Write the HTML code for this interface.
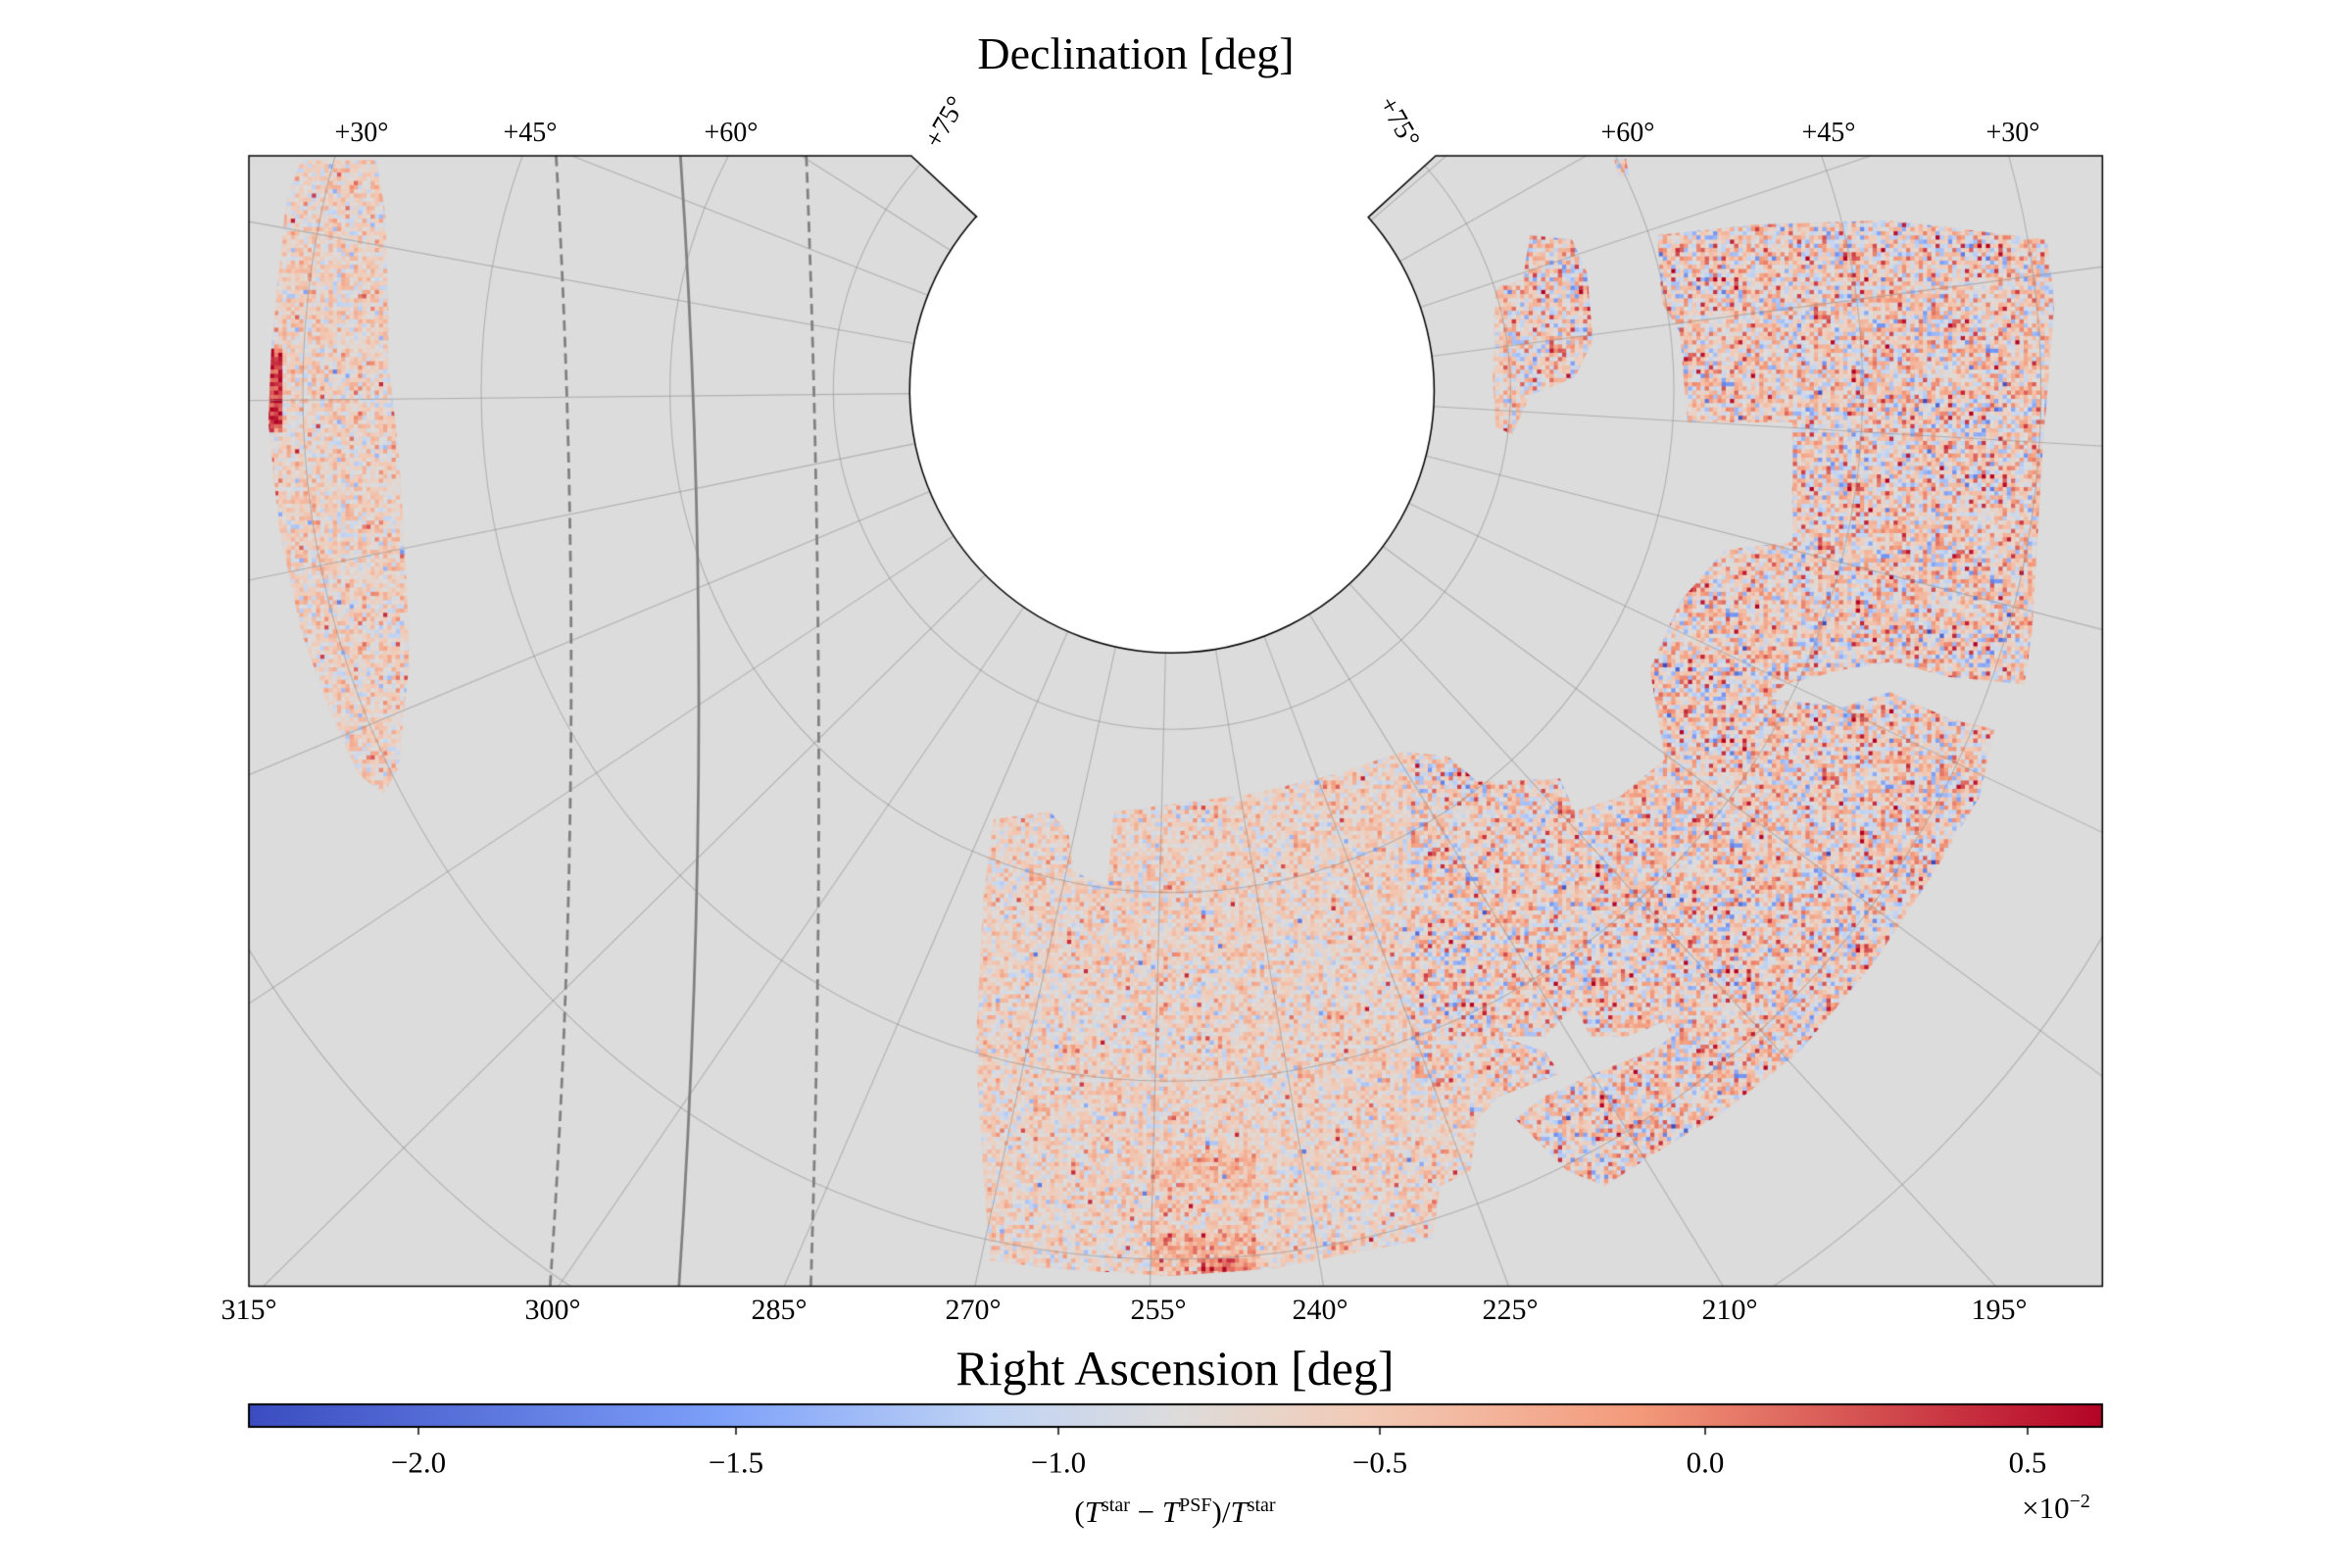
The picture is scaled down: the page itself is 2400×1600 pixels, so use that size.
<!DOCTYPE html>
<html><head><meta charset="utf-8"><style>
html,body{margin:0;padding:0;background:#fff}
#w{position:relative;width:2400px;height:1600px;overflow:hidden;font-family:"Liberation Serif",serif;color:#000}
canvas{position:absolute;left:0;top:0}
.t{position:absolute;white-space:nowrap;transform:translate(-50%,-50%);line-height:1}
</style></head><body><div id="w">
<canvas id="c" width="2400" height="1600"></canvas>
<div class="t" style="left:1159px;top:55px;font-size:46px">Declination [deg]</div>
<div class="t" style="left:369px;top:136px;font-size:28px">+30°</div>
<div class="t" style="left:541px;top:136px;font-size:28px">+45°</div>
<div class="t" style="left:746px;top:136px;font-size:28px">+60°</div>
<div class="t" style="left:1661px;top:136px;font-size:28px">+60°</div>
<div class="t" style="left:1866px;top:136px;font-size:28px">+45°</div>
<div class="t" style="left:2054px;top:136px;font-size:28px">+30°</div>
<div class="t" style="left:965px;top:125px;font-size:28px;transform:translate(-50%,-50%) rotate(-60deg)">+75°</div>
<div class="t" style="left:1427px;top:125px;font-size:28px;transform:translate(-50%,-50%) rotate(60deg)">+75°</div>
<div class="t" style="left:254px;top:1337px;font-size:30px">315°</div>
<div class="t" style="left:564px;top:1337px;font-size:30px">300°</div>
<div class="t" style="left:795px;top:1337px;font-size:30px">285°</div>
<div class="t" style="left:993px;top:1337px;font-size:30px">270°</div>
<div class="t" style="left:1182px;top:1337px;font-size:30px">255°</div>
<div class="t" style="left:1347px;top:1337px;font-size:30px">240°</div>
<div class="t" style="left:1541px;top:1337px;font-size:30px">225°</div>
<div class="t" style="left:1765px;top:1337px;font-size:30px">210°</div>
<div class="t" style="left:2040px;top:1337px;font-size:30px">195°</div>
<div class="t" style="left:1199px;top:1396px;font-size:50px">Right Ascension [deg]</div>
<div class="t" style="left:427px;top:1492px;font-size:31px">−2.0</div>
<div class="t" style="left:751px;top:1492px;font-size:31px">−1.5</div>
<div class="t" style="left:1080px;top:1492px;font-size:31px">−1.0</div>
<div class="t" style="left:1408px;top:1492px;font-size:31px">−0.5</div>
<div class="t" style="left:1740px;top:1492px;font-size:31px">0.0</div>
<div class="t" style="left:2069px;top:1492px;font-size:31px">0.5</div>
<div class="t" style="left:1199px;top:1542px;font-size:31px">(<i>T</i><sup style="font-size:20px">star</sup> − <i>T</i><sup style="font-size:20px">PSF</sup>)/<i>T</i><sup style="font-size:20px">star</sup></div>
<div class="t" style="left:2098px;top:1538px;font-size:31px">×10<sup style="font-size:20px">−2</sup></div>
</div>
<script>
var c=document.getElementById('c'),x=c.getContext('2d');
var S=[[59,76,192],[124,159,249],[192,212,245],[221,220,220],[242,203,183],[244,154,123],[180,4,38]];
var P=[0,0.25,0.4,0.5,0.6,0.75,1];
function cm(t){t=Math.max(0,Math.min(1,t));for(var i=1;i<P.length;i++){if(t<=P[i]){var f=(t-P[i-1])/(P[i]-P[i-1]),a=S[i-1],b=S[i];return 'rgb('+Math.round(a[0]+(b[0]-a[0])*f)+','+Math.round(a[1]+(b[1]-a[1])*f)+','+Math.round(a[2]+(b[2]-a[2])*f)+')';}}}
var seed=12345;function rnd(){seed=(seed*1103515245+12345)&0x7fffffff;return seed/0x7fffffff;}
function gn(){var u=rnd()||1e-6,v=rnd();return Math.sqrt(-2*Math.log(u))*Math.cos(6.2832*v);}
x.setTransform(1.529,0,0,1.528,1.7,3.1);
var D=Math.PI/180;
function frame(){x.beginPath();x.moveTo(165,102);x.lineTo(607,102);x.lineTo(651,143);
x.arc(781,259,175,-138.3*D,-41.5*D,true);x.lineTo(957,102);x.lineTo(1402,102);x.lineTo(1402,857);x.lineTo(165,857);x.closePath();}
frame();x.fillStyle='#dcdcdc';x.fill();
x.save();frame();x.clip();
function poly(p){x.moveTo(p[0],p[1]);for(var i=2;i<p.length;i+=2)x.lineTo(p[i],p[i+1]);x.closePath();}
var L=[200,105,250,105,256,140,258,200,258,240,265,300,270,380,272,440,265,510,255,528,238,515,218,470,200,420,185,350,178,280,180,230,185,180,190,130];
var A=[1020,155,1048,158,1058,180,1062,225,1050,250,1020,262,1008,288,997,283,995,250,997,190,1015,185];
var B=[662,545,700,540,712,555,715,580,738,590,742,540,835,528,890,515,935,500,965,503,985,520,1040,518,1050,540,1080,530,1110,505,1100,445,1120,400,1150,365,1195,360,1195,280,1125,280,1120,220,1108,200,1105,155,1170,148,1260,145,1365,158,1370,200,1362,300,1355,420,1350,455,1300,450,1260,440,1230,445,1190,455,1180,465,1230,470,1260,460,1300,478,1330,485,1320,530,1290,580,1250,640,1200,700,1150,740,1100,770,1070,790,1045,780,1010,745,1030,730,1070,712,1100,700,1115,690,1110,680,1085,690,1060,690,1050,670,1030,690,1000,690,1030,700,1040,715,1000,730,985,745,980,780,960,790,955,825,900,835,850,845,780,850,700,845,660,840,655,780,650,700,655,600,660,560];
var T=[1076,104,1084,104,1086,115,1079,116];
x.save();x.beginPath();poly(L);poly(A);poly(B);poly(T);x.clip();
var st=2.8;
for(var yy=102;yy<860;yy+=st){for(var xx=165;xx<1402;xx+=st){
 var sd=0.085, m=0.56;
 if(xx>1000){sd=0.15;m=0.57;}
 if(xx>940&&xx<1140&&yy>480&&yy<720){sd=0.14;}
 if(xx>765&&xx<835&&yy>765){m=0.6+((yy>820)?0.07:0)+((Math.abs(yy-775)<5)?0.06:0);}
 if(xx>800&&xx<830&&yy>838){m=0.8;}
 if(xx<186&&yy>230&&yy<285){m=0.9;}
 var v=m+sd*gn(); if(rnd()<0.015)v+= (rnd()<0.5?-0.25:0.28);
 x.fillStyle=cm(v);x.fillRect(xx,yy,st+0.3,st+0.3);}}
x.restore();
x.strokeStyle='rgba(140,140,140,0.55)';x.lineWidth=0.7;
[226,335,461,580,720,880,1050].forEach(function(r){x.beginPath();x.arc(781,259,r,0,2*Math.PI);x.stroke();});
for(var a=-1.4-11*16;a<180;a+=11){var th=a*D;x.beginPath();x.moveTo(781+175*Math.sin(th),259+175*Math.cos(th));x.lineTo(781+1500*Math.sin(th),259+1500*Math.cos(th));x.stroke();}
x.strokeStyle='#808080';x.lineWidth=1.8;
x.setLineDash([7,4]);x.beginPath();x.moveTo(370,102);x.quadraticCurveTo(392,480,366,857);x.stroke();
x.beginPath();x.moveTo(537,102);x.quadraticCurveTo(552,480,540,857);x.stroke();
x.setLineDash([]);x.beginPath();x.moveTo(453,102);x.quadraticCurveTo(478,470,452,857);x.stroke();
x.restore();
frame();x.strokeStyle='#000';x.lineWidth=1;x.stroke();
x.setTransform(1,0,0,1,0,0);
var g=x.createLinearGradient(254,0,2145,0);for(var i=0;i<=20;i++)g.addColorStop(i/20,cm(i/20));
x.fillStyle=g;x.fillRect(254,1433,1891,23);x.strokeStyle='#000';x.lineWidth=2;x.strokeRect(254,1433,1891,23);
[427,751,1080,1408,1740,2069].forEach(function(p){x.beginPath();x.moveTo(p,1456);x.lineTo(p,1464);x.lineWidth=1.5;x.stroke();});
</script>
</body></html>
